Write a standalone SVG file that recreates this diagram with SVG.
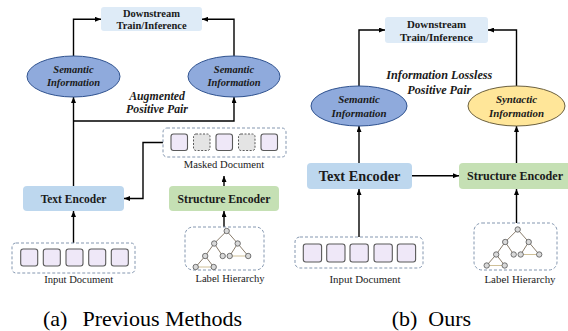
<svg xmlns="http://www.w3.org/2000/svg" xmlns:xlink="http://www.w3.org/1999/xlink" width="568" height="331" viewBox="0 0 568 331">
<style>
text{font-family:'Liberation Serif','Times New Roman',Tinos,'DejaVu Serif',serif}
.bold{font-weight:bold;fill:#1a1a1a;text-anchor:middle}
.bi{font-weight:bold;font-style:italic;fill:#1a1a1a;text-anchor:middle}
.reg{fill:#1a1a1a;text-anchor:middle}
.cap{fill:#000;font-size:22px}
.down{fill:#deebf7;stroke:none}
.te{fill:#bdd7ee;stroke:none}
.se{fill:#c5e0b4;stroke:none}
.sem{fill:#8faadc;stroke:#2f528f;stroke-width:1}
.syn{fill:#ffe699;stroke:#6b6040;stroke-width:1}
.cont{fill:#fff;stroke:#8497b0;stroke-width:1;stroke-dasharray:3 2}
.tok{fill:#efe8f8;stroke:#595959;stroke-width:1.1}
.mask{fill:#e4e4e4;stroke:#595959;stroke-width:1;stroke-dasharray:2 1.5}
.conn{fill:none;stroke:#000;stroke-width:1.4}
.edge{stroke:#6b5a45;stroke-width:0.8}
.tan{stroke:#c9b98c;stroke-width:0.9}
.nd{fill:#d9d9d9;stroke:#555;stroke-width:0.8}
</style>
<defs>
<marker id="arr" markerUnits="userSpaceOnUse" markerWidth="6" markerHeight="5" viewBox="0 0 6 5" refX="6" refY="2.5" orient="auto">
<path d="M0,0 L6,2.5 L0,5 z" fill="#000"/>
</marker>
<g id="tree">
<line class="edge" x1="0" y1="0" x2="-12.5" y2="12.5"/>
<line class="edge" x1="0" y1="0" x2="11" y2="12.5"/>
<line class="edge" x1="-12.5" y1="12.5" x2="-21.5" y2="25"/>
<line class="edge" x1="-12.5" y1="12.5" x2="-4" y2="25"/>
<line class="edge" x1="11" y1="12.5" x2="3" y2="25"/>
<line class="edge" x1="11" y1="12.5" x2="21.5" y2="25"/>
<line class="edge" x1="-21.5" y1="25" x2="-31" y2="36"/>
<line class="edge" x1="-21.5" y1="25" x2="-13" y2="36"/>
<line class="tan" x1="3" y1="25" x2="21.5" y2="25"/>
<line class="tan" x1="-31" y1="36" x2="-13" y2="36"/>
<circle class="nd" cx="0" cy="0" r="2.7"/>
<circle class="nd" cx="-12.5" cy="12.5" r="2.7"/>
<circle class="nd" cx="11" cy="12.5" r="2.7"/>
<circle class="nd" cx="-21.5" cy="25" r="2.7"/>
<circle class="nd" cx="-4" cy="25" r="2.7"/>
<circle class="nd" cx="3" cy="25" r="2.7"/>
<circle class="nd" cx="21.5" cy="25" r="2.7"/>
<circle class="nd" cx="-31" cy="36" r="2.7"/>
<circle class="nd" cx="-13" cy="36" r="2.7"/>
</g>
</defs>

<!-- Connectors -->
<g id="connectors">
<path class="conn" d="M73.5,56 V19.3 H101" marker-end="url(#arr)"/>
<path class="conn" d="M234,56 V19.3 H202" marker-end="url(#arr)"/>
<path class="conn" d="M73.5,186 V97" marker-end="url(#arr)"/>
<path class="conn" d="M73.5,121 H234 V97" marker-end="url(#arr)"/>
<path class="conn" d="M163,142.5 H143 V198.5 H124" marker-end="url(#arr)"/>
<path class="conn" d="M224,186 V176" marker-end="url(#arr)"/>
<path class="conn" d="M224,227 V211" marker-end="url(#arr)"/>
<path class="conn" d="M73.5,243 V211" marker-end="url(#arr)"/>

<path class="conn" d="M359,86 V30 H385" marker-end="url(#arr)"/>
<path class="conn" d="M516.5,86 V30 H488" marker-end="url(#arr)"/>
<path class="conn" d="M359,163 V126" marker-end="url(#arr)"/>
<path class="conn" d="M516.5,163 V126" marker-end="url(#arr)"/>
<path class="conn" d="M412,175.7 H459" marker-end="url(#arr)"/>
<path class="conn" d="M359,237 V189" marker-end="url(#arr)"/>
<path class="conn" d="M516.5,223 V189" marker-end="url(#arr)"/>
</g>

<!-- Panel (a) -->
<g id="a-downstream">
<rect class="down" x="101" y="7" width="101" height="24" rx="3"/>
<text class="bold" x="151.5" y="16.8" font-size="10.5">Downstream</text>
<text class="bold" x="151.5" y="28.6" font-size="10.5">Train/Inference</text>
</g>
<g id="a-sem1">
<ellipse class="sem" cx="73.5" cy="76.5" rx="46.5" ry="20.5"/>
<text class="bi" x="73.5" y="72.8" font-size="10.5">Semantic</text>
<text class="bi" x="73.5" y="85.8" font-size="10.5">Information</text>
</g>
<g id="a-sem2">
<ellipse class="sem" cx="234" cy="76.5" rx="46" ry="20.5"/>
<text class="bi" x="234" y="72.8" font-size="10.5">Semantic</text>
<text class="bi" x="234" y="85.8" font-size="10.5">Information</text>
</g>
<g id="a-label">
<text class="bi" x="157" y="99.5" font-size="11.8">Augmented</text>
<text class="bi" x="157" y="113" font-size="11.8">Positive Pair</text>
</g>
<g id="a-masked">
<rect class="cont" x="163" y="128" width="123" height="29" rx="4"/>
<rect class="tok" x="171" y="134" width="16.5" height="16.5" rx="2.5"/>
<rect class="mask" x="193.5" y="134" width="16.5" height="16.5" rx="2.5"/>
<rect class="tok" x="216" y="134" width="16.5" height="16.5" rx="2.5"/>
<rect class="mask" x="238.5" y="134" width="16.5" height="16.5" rx="2.5"/>
<rect class="tok" x="261" y="134" width="16.5" height="16.5" rx="2.5"/>
<text class="reg" x="224" y="168" font-size="10.6">Masked Document</text>
</g>
<g id="a-textenc">
<rect class="te" x="23" y="186" width="101" height="25" rx="4"/>
<text class="bold" x="73.5" y="202.6" font-size="11.5">Text Encoder</text>
</g>
<g id="a-structenc">
<rect class="se" x="169" y="186" width="110" height="25" rx="4"/>
<text class="bold" x="224" y="202.6" font-size="11.7">Structure Encoder</text>
</g>
<g id="a-input">
<rect class="cont" x="12" y="243" width="123" height="30" rx="4"/>
<rect class="tok" x="20.7" y="249" width="17" height="17" rx="2.5"/>
<rect class="tok" x="43.3" y="249" width="17" height="17" rx="2.5"/>
<rect class="tok" x="66" y="249" width="17" height="17" rx="2.5"/>
<rect class="tok" x="88.7" y="249" width="17" height="17" rx="2.5"/>
<rect class="tok" x="111.3" y="249" width="17" height="17" rx="2.5"/>
<text class="reg" x="78.7" y="283" font-size="10.6">Input Document</text>
</g>
<g id="a-hier">
<rect class="cont" x="185" y="227" width="79" height="43" rx="8"/>
<use xlink:href="#tree" href="#tree" transform="translate(226.7,231)"/>
<text class="reg" x="230" y="282" font-size="10.6">Label Hierarchy</text>
</g>
<text class="cap" y="326"><tspan x="43">(a)</tspan><tspan x="82.5">Previous Methods</tspan></text>

<!-- Panel (b) -->
<g id="b-downstream">
<rect class="down" x="385" y="17" width="103" height="26" rx="3"/>
<text class="bold" x="436.5" y="27.8" font-size="10.9">Downstream</text>
<text class="bold" x="436.5" y="40.5" font-size="10.9">Train/Inference</text>
</g>
<g id="b-sem">
<ellipse class="sem" cx="359" cy="106" rx="48" ry="20"/>
<text class="bi" x="359" y="103" font-size="10.9">Semantic</text>
<text class="bi" x="359" y="117" font-size="10.9">Information</text>
</g>
<g id="b-syn">
<ellipse class="syn" cx="516.5" cy="106" rx="48.5" ry="20"/>
<text class="bi" x="516.5" y="103" font-size="10.9">Syntactic</text>
<text class="bi" x="516.5" y="117" font-size="10.9">Information</text>
</g>
<g id="b-label">
<text class="bi" x="439.3" y="79" font-size="12.2">Information Lossless</text>
<text class="bi" x="439.3" y="94" font-size="12.2">Positive Pair</text>
</g>
<g id="b-textenc">
<rect class="te" x="307" y="163" width="105" height="26" rx="4"/>
<text class="bold" x="359.5" y="181" font-size="14.3">Text Encoder</text>
</g>
<g id="b-structenc">
<rect class="se" x="459" y="163" width="112" height="26" rx="4"/>
<text class="bold" x="515" y="180.2" font-size="12.1">Structure Encoder</text>
</g>
<g id="b-input">
<rect class="cont" x="295" y="237" width="128" height="31" rx="5"/>
<rect class="tok" x="303.3" y="244" width="18.3" height="18" rx="2.5"/>
<rect class="tok" x="326.7" y="244" width="18.3" height="18" rx="2.5"/>
<rect class="tok" x="350" y="244" width="18.3" height="18" rx="2.5"/>
<rect class="tok" x="374" y="244" width="18.3" height="18" rx="2.5"/>
<rect class="tok" x="397.3" y="244" width="18.3" height="18" rx="2.5"/>
<text class="reg" x="365" y="282.5" font-size="10.9">Input Document</text>
</g>
<g id="b-hier">
<rect class="cont" x="474" y="223" width="83" height="47" rx="8"/>
<use xlink:href="#tree" href="#tree" transform="translate(517.7,229.5)"/>
<text class="reg" x="520" y="282.5" font-size="10.9">Label Hierarchy</text>
</g>
<text class="cap" y="326"><tspan x="391.7">(b)</tspan><tspan x="428.3">Ours</tspan></text>
</svg>
